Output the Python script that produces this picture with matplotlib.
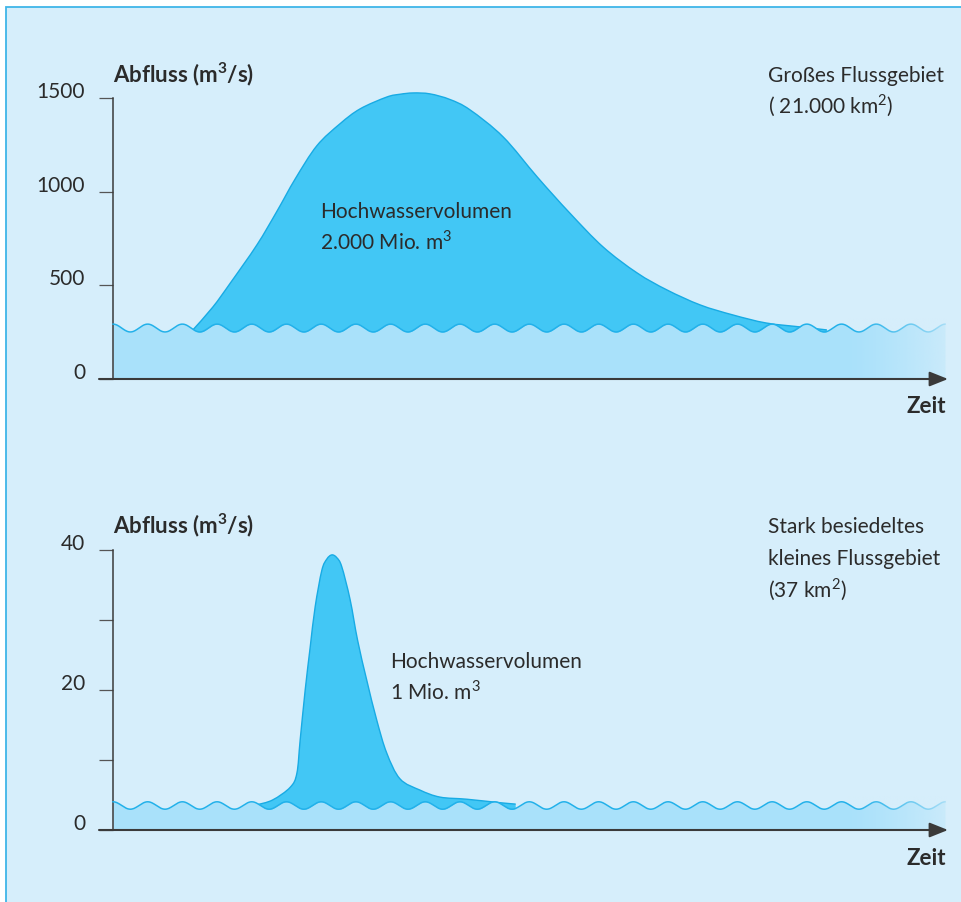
import numpy as np
import matplotlib
matplotlib.use("Agg")
import matplotlib.pyplot as plt
from matplotlib.patches import Rectangle, PathPatch
from matplotlib.path import Path

# --- data ------------------------------------------------------------------
# time axis in arbitrary units (0 .. 100), discharge in m3/s
big_t = [9.6, 12.0, 14.1, 17.3, 19.7, 21.9, 24.5, 27.3, 29.7, 32.9, 34.5, 36.1,
         38.1, 40.5, 42.9, 46.9, 51.0, 54.9, 58.9, 63.0, 66.6, 70.6, 74.5,
         78.5, 82.6, 85.8]
big_q = [262, 384, 512, 716, 895, 1068, 1245, 1363, 1442, 1505, 1520, 1527,
         1522, 1492, 1437, 1292, 1078, 886, 705, 566, 475, 395, 342,
         299, 278, 262]

small_t = [17.3, 19.2, 21.3, 22.1, 22.5, 23.1, 23.7, 24.3, 25.1, 25.7, 26.3,
           26.9, 27.5, 28.5, 29.4, 30.5, 31.7, 32.9, 34.5, 36.9, 39.3, 42.5,
           46.5, 48.4]
small_q = [3.6, 4.3, 6.1, 8.1, 12.9, 20.0, 26.1, 31.9, 37.1, 38.7, 39.3,
           38.9, 37.6, 32.9, 27.1, 21.4, 15.7, 11.0, 7.3, 5.7, 4.7, 4.4,
           3.9, 3.7]

big_base = 272       # base flow, m3/s
small_base = 3.5
big_ticks = [0, 500, 1000, 1500]
big_labels = ["0", "500", "1000", "1500"]
small_ticks = [0, 10, 20, 30, 40]
small_labels = ["0", "", "20", "", "40"]

# --- style -------------------------------------------------------------------
W, H = 962, 902
BG = "#d6eefb"
WATER = "#a9e1fa"
FLOOD = "#42c7f5"
EDGE = "#18abe4"
WAVE = "#22b1ea"
INK = "#2b2b2b"
AXIS = "#3a3a3a"
FONT = ["Lato", "DejaVu Sans"]
PX_PER_T = 8.32      # pixels per time unit
WAVE_PERIOD = 4.17   # decorative ripple on the base flow

plt.rcParams["font.family"] = FONT
plt.rcParams["mathtext.fontset"] = "custom"
plt.rcParams["mathtext.rm"] = "Lato"
plt.rcParams["mathtext.bf"] = "Lato:bold"

fig = plt.figure(figsize=(W / 100, H / 100), dpi=100, facecolor="white")
fig.patches.append(Rectangle((6 / W, -0.1), 1.1, 1 - 7 / H + 0.1,
                             transform=fig.transFigure, facecolor=BG,
                             edgecolor="#3fb5e8", lw=1.3, zorder=-10))


def px_axes(x0, y0, x1, y1):
    return fig.add_axes([x0 / W, 1 - y1 / H, (x1 - x0) / W, (y1 - y0) / H])


def ftext(x, y, s, **kw):
    kw.setdefault("color", INK)
    kw.setdefault("fontsize", 15)
    kw.setdefault("va", "baseline")
    fig.text(x / W, 1 - y / H, s, **kw)


def smooth_verts(t, q):
    # Catmull-Rom through the read points, as cubic Bezier segments
    p = np.column_stack([t, q]).astype(float)
    ext = np.vstack([p[0], p, p[-1]])
    verts = [p[0]]
    codes = [Path.MOVETO]
    for i in range(len(p) - 1):
        a, b, c, d = ext[i], ext[i + 1], ext[i + 2], ext[i + 3]
        verts += [b + (c - a) / 6, c - (d - b) / 6, c]
        codes += [Path.CURVE4] * 3
    return verts, codes


def draw_panel(ax, t, q, base, amp, ticks, labels, ymax):
    ax.set_facecolor("none")
    ax.set_xlim(-14 / PX_PER_T, (955 - 113) / PX_PER_T)
    ax.set_ylim(0, ymax)
    for s in ["top", "right", "bottom"]:
        ax.spines[s].set_visible(False)
    ax.spines["left"].set_position(("data", 0))
    ax.spines["left"].set_bounds(0, ticks[-1])
    ax.spines["left"].set_color(AXIS)
    ax.spines["left"].set_linewidth(1.1)
    ax.set_xticks([])
    ax.set_yticks(ticks, labels)
    ax.tick_params(axis="y", direction="out", length=10, width=0.9,
                   color="#555555", pad=10, labelsize=15, labelcolor=INK)
    for lab in ax.get_yticklabels():
        lab.set_verticalalignment("baseline")

    # flood hydrograph behind the base-flow water
    verts, codes = smooth_verts(t, q)
    fill_v = verts + [(t[-1], 0), (t[0], 0), verts[0]]
    fill_c = codes + [Path.LINETO, Path.LINETO, Path.CLOSEPOLY]
    ax.add_patch(PathPatch(Path(fill_v, fill_c), facecolor=FLOOD, lw=0,
                           zorder=1))
    ax.add_patch(PathPatch(Path(verts, codes), facecolor="none",
                           edgecolor=EDGE, lw=1.0, zorder=1.5))

    # base flow with ripple
    tw = np.linspace(0, 100, 1200)
    wave = base + amp * np.cos(2 * np.pi * tw / WAVE_PERIOD)
    ax.fill_between(tw, 0, wave, color=WATER, lw=0, zorder=2)
    ax.plot(tw, wave, color=WAVE, lw=1.1, zorder=3)

    # fade-out on the right
    grad = np.zeros((2, 256, 4))
    grad[..., :3] = matplotlib.colors.to_rgb(BG)
    grad[..., 3] = np.linspace(0, 0.8, 256) ** 1.3
    ax.imshow(grad, extent=[88, 100.2, 0, base + 2.5 * amp], aspect="auto",
              zorder=4, interpolation="bilinear", origin="lower")
    ax.set_xlim(-14 / PX_PER_T, (955 - 113) / PX_PER_T)
    ax.set_ylim(0, ymax)

    # time axis with arrow
    ax.annotate("", xy=((948 - 113) / PX_PER_T, 0), xytext=(-14 / PX_PER_T, 0),
                arrowprops=dict(arrowstyle="-|>,head_length=0.8,head_width=0.32",
                                color=AXIS, lw=1.5, shrinkA=0, shrinkB=0,
                                mutation_scale=14),
                annotation_clip=False, zorder=6)


ax1 = px_axes(99, 70, 955, 379)
draw_panel(ax1, big_t, big_q, big_base, 21, big_ticks, big_labels,
           (379 - 70) * 1500 / 281)

ax2 = px_axes(99, 540, 955, 830)
draw_panel(ax2, small_t, small_q, small_base, 0.53, small_ticks, small_labels,
           (830 - 540) / 7)

# --- texts -----------------------------------------------------------------
ylabel = r"Abfluss (m$^\mathbf{3}$/s)"
ftext(113, 82, ylabel, fontsize=16, fontweight="bold")
ftext(113, 533, ylabel, fontsize=16, fontweight="bold")
ftext(946, 413, "Zeit", fontsize=16, fontweight="bold", ha="right")
ftext(946, 865, "Zeit", fontsize=16, fontweight="bold", ha="right")

ftext(768, 82, "Großes Flussgebiet")
ftext(768, 113, r"( 21.000 km$^\mathrm{2}$)")
ftext(768, 533, "Stark besiedeltes")
ftext(768, 565, "kleines Flussgebiet")
ftext(768, 597, r"(37 km$^\mathrm{2}$)")

ftext(320, 218, "Hochwasservolumen")
ftext(320, 250, r"2.000 Mio. m$^\mathrm{3}$")
ftext(390, 668, "Hochwasservolumen")
ftext(390, 700, r"1 Mio. m$^\mathrm{3}$")

fig.savefig("out.png", dpi=100, facecolor="white")
